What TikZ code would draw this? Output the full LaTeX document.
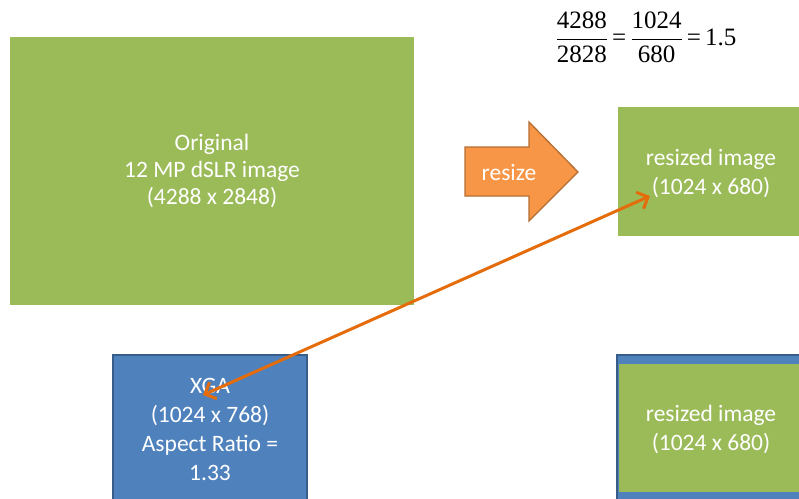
\documentclass[tikz,border=0pt]{standalone}
\usepackage{fontspec}
\setmainfont{Carlito}
\newfontfamily\tms{Liberation Serif}
\usetikzlibrary{arrows.meta}
\definecolor{mygreen}{HTML}{9BBB59}
\definecolor{myblue}{HTML}{4F81BD}
\definecolor{mybluedark}{HTML}{385D8A}
\definecolor{myorange}{HTML}{F79646}
\definecolor{myorangedark}{HTML}{B66D31}
\definecolor{myline}{HTML}{E46C0A}
\tikzset{
  txt/.style={text=white, align=center, font=\fontsize{23.5}{29}\selectfont},
  greenbox/.style={fill=mygreen, draw=none, inner sep=0pt},
  bluebox/.style={fill=myblue, draw=mybluedark, line width=1.2pt, inner sep=0pt},
  conn/.style={draw=myline, line width=3pt, {Straight Barb[length=9pt,width=18pt]}-{Straight Barb[length=9pt,width=18pt]}},
}
\begin{document}
\begin{tikzpicture}[x=1pt,y=-1pt]
\useasboundingbox (0,0) rectangle (799,498);
\clip (0,0) rectangle (799,498);
% boxes
\node[greenbox, minimum width=404pt, minimum height=268pt] (orig) at (211.5,170.5) {};
\node[txt, font=\fontsize{23.5}{27}\selectfont] (origtxt) at (212,171) {Original\\12 MP dSLR image\\(4288 x 2848)};
\node[greenbox, minimum width=185pt, minimum height=129pt] (rtop) at (710.5,171.5) {};
\node[txt] (rtoptxt) at (711,173) {resized image\\(1024 x 680)};
\node[bluebox, minimum width=194pt, minimum height=160pt] (xga) at (210,435) {};
\node[txt] (xgatxt) at (210,429) {XGA\\(1024 x 768)\\Aspect Ratio =\\1.33};
\node[bluebox, minimum width=200pt, minimum height=160pt] (rbot) at (717,435) {};
\node[greenbox, minimum width=200pt, minimum height=128pt] (rbotg) at (719,428) {};
\node[txt] (rbottxt) at (711,429) {resized image\\(1024 x 680)};
% resize arrow
\draw[fill=myorange, draw=myorangedark, line width=1.3pt, line join=miter]
  (465,147) -- (529,147) -- (529,122) -- (578,172) -- (529,221) -- (529,196) -- (465,196) -- cycle;
\node[txt] (resize) at (509,172) {resize};
% formula
\node (formula) at (646,37) {\fontsize{25}{29}\selectfont$\displaystyle
  \frac{\mbox{\tms 4288}}{\mbox{\tms 2828}}\mbox{\tms\,=\,}\frac{\mbox{\tms 1024}}{\mbox{\tms 680}}\mbox{\tms\,=\,1.5}$};
% connector
\coordinate (pa) at (203,395);
\coordinate (pb) at (650,196);
\draw[conn] (pa) -- (pb);
\end{tikzpicture}
\end{document}
